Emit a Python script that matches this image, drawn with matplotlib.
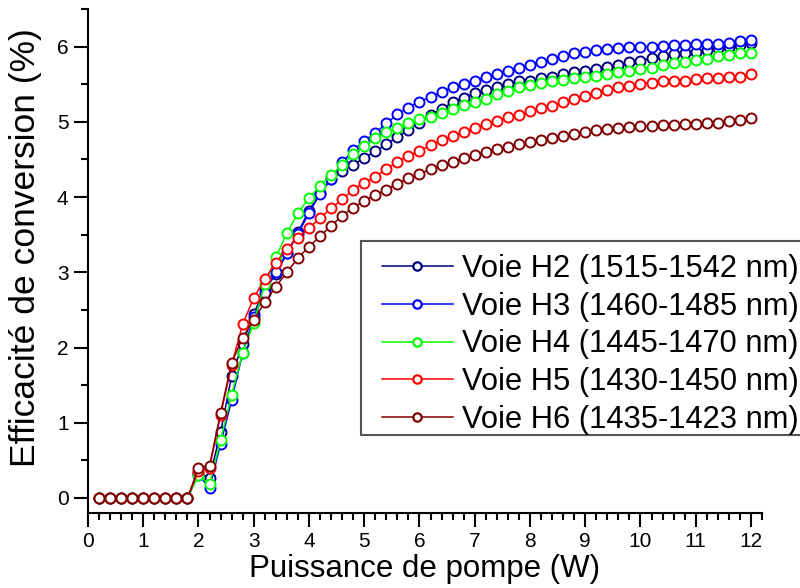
import numpy as np
import matplotlib
matplotlib.use("Agg")
import matplotlib.pyplot as plt
from matplotlib.ticker import MultipleLocator
from matplotlib.patches import Rectangle

plt.rcParams['font.family'] = ['Liberation Sans', 'DejaVu Sans']

# =============================
# DATA
# =============================
pump_w = [0.2, 0.4, 0.6, 0.8, 1.0, 1.2, 1.4, 1.6, 1.8, 2.0,
          2.2, 2.4, 2.6, 2.8, 3.0, 3.2, 3.4, 3.6, 3.8, 4.0,
          4.2, 4.4, 4.6, 4.8, 5.0, 5.2, 5.4, 5.6, 5.8, 6.0,
          6.2, 6.4, 6.6, 6.8, 7.0, 7.2, 7.4, 7.6, 7.8, 8.0,
          8.2, 8.4, 8.6, 8.8, 9.0, 9.2, 9.4, 9.6, 9.8, 10.0,
          10.2, 10.4, 10.6, 10.8, 11.0, 11.2, 11.4, 11.6, 11.8, 12.0]

zeros = [0, 0, 0, 0, 0, 0, 0, 0, 0]

eff_h2 = zeros + [0.33, 0.27, 0.87, 1.62, 2.05, 2.45, 2.78, 2.98, 3.25, 3.53,
                  3.82, 4.06, 4.24, 4.35, 4.43, 4.52, 4.61, 4.70, 4.80, 4.89,
                  4.99, 5.09, 5.17, 5.26, 5.32, 5.38, 5.42, 5.46, 5.50, 5.54,
                  5.55, 5.58, 5.60, 5.63, 5.66, 5.67, 5.70, 5.73, 5.76, 5.79,
                  5.81, 5.85, 5.88, 5.90, 5.92, 5.93, 5.95, 5.98, 6.00, 6.02,
                  6.05]
eff_h3 = zeros + [0.31, 0.13, 0.72, 1.30, 1.93, 2.40, 2.73, 3.00, 3.25, 3.51,
                  3.79, 4.04, 4.24, 4.46, 4.62, 4.75, 4.85, 4.98, 5.10, 5.19,
                  5.27, 5.33, 5.40, 5.46, 5.51, 5.55, 5.60, 5.64, 5.68, 5.72,
                  5.76, 5.80, 5.83, 5.88, 5.91, 5.93, 5.95, 5.97, 5.98, 5.99,
                  6.00, 6.00, 6.01, 6.02, 6.02, 6.03, 6.04, 6.04, 6.05, 6.07,
                  6.09]
eff_h4 = zeros + [0.30, 0.18, 0.77, 1.37, 1.93, 2.33, 2.84, 3.20, 3.52, 3.79,
                  3.99, 4.15, 4.29, 4.43, 4.57, 4.68, 4.78, 4.86, 4.92, 4.99,
                  5.04, 5.07, 5.12, 5.17, 5.22, 5.27, 5.31, 5.37, 5.41, 5.46,
                  5.49, 5.52, 5.55, 5.56, 5.58, 5.60, 5.61, 5.63, 5.66, 5.68,
                  5.70, 5.72, 5.75, 5.78, 5.80, 5.82, 5.84, 5.87, 5.89, 5.91,
                  5.92]
eff_h5 = zeros + [0.36, 0.40, 1.10, 1.77, 2.31, 2.66, 2.91, 3.13, 3.31, 3.46,
                  3.59, 3.72, 3.85, 3.97, 4.10, 4.19, 4.27, 4.37, 4.47, 4.55,
                  4.61, 4.69, 4.76, 4.81, 4.87, 4.92, 4.97, 5.01, 5.06, 5.09,
                  5.14, 5.18, 5.21, 5.26, 5.31, 5.35, 5.39, 5.42, 5.46, 5.48,
                  5.51, 5.52, 5.54, 5.55, 5.55, 5.57, 5.58, 5.58, 5.59, 5.60,
                  5.63]
eff_h6 = zeros + [0.40, 0.43, 1.13, 1.80, 2.13, 2.37, 2.60, 2.81, 3.00, 3.19,
                  3.34, 3.48, 3.62, 3.75, 3.86, 3.95, 4.03, 4.10, 4.18, 4.25,
                  4.31, 4.37, 4.42, 4.47, 4.52, 4.56, 4.60, 4.64, 4.67, 4.70,
                  4.73, 4.76, 4.78, 4.81, 4.84, 4.86, 4.89, 4.90, 4.92, 4.93,
                  4.94, 4.95, 4.96, 4.96, 4.97, 4.97, 4.98, 4.99, 5.01, 5.03,
                  5.05]

labels = ["Voie H2 (1515-1542 nm)", "Voie H3 (1460-1485 nm)",
          "Voie H4 (1445-1470 nm)", "Voie H5 (1430-1450 nm)",
          "Voie H6 (1435-1423 nm)"]
colors = ['#000080', '#0000FF', '#00FF00', '#FF0000', '#800000']

# =============================
# PLOT
# =============================
fig = plt.figure(figsize=(8, 5.88), dpi=100)
ax = fig.add_axes([0.11, 0.1276, 0.8425, 0.857])

for y, lab, c in zip([eff_h2, eff_h3, eff_h4, eff_h5, eff_h6], labels, colors):
    ax.plot(pump_w, y, color=c, linewidth=1.1, marker='o', markersize=7.2,
            markerfacecolor='white', markeredgecolor=c, markeredgewidth=1.4,
            label=lab, clip_on=False)

ax.set_xlim(0, 12.2)
ax.set_ylim(-0.2, 6.5)
ax.xaxis.set_major_locator(MultipleLocator(1))
ax.xaxis.set_minor_locator(MultipleLocator(0.2))
ax.yaxis.set_major_locator(MultipleLocator(1))
ax.yaxis.set_minor_locator(MultipleLocator(0.5))

for side in ['top', 'right']:
    ax.spines[side].set_visible(False)
for side in ['left', 'bottom']:
    ax.spines[side].set_linewidth(1.5)

ax.tick_params(which='major', direction='out', length=10, width=1.5,
               labelsize=15, pad=4)
ax.tick_params(which='minor', direction='out', length=5, width=1.5)

ax.set_xlabel("Puissance de pompe (W)", fontsize=22.5, labelpad=2)
ax.set_ylabel("Efficacité de conversion (%)", fontsize=25.5)
ax.yaxis.set_label_coords(-0.068, 0.527)

# legend box, drawn by hand so it can run past the right edge
frame = Rectangle((361/800, 1 - 435/588), 460/800, 194/588,
                  transform=fig.transFigure, facecolor='white',
                  edgecolor='#555555', linewidth=1.5, zorder=8, clip_on=False)
ax.add_patch(frame)

leg = ax.legend(loc='upper left', bbox_to_anchor=(382/800, 1 - 254/588),
                bbox_transform=fig.transFigure, fontsize=22.2, frameon=False,
                borderpad=0, labelspacing=0.25,
                handlelength=2.3, handletextpad=0.3, borderaxespad=0)
leg.set_zorder(10)
for h in leg.legend_handles:
    h.set_markersize(6)
    h.set_markeredgewidth(1.6)

fig.savefig("out.png", dpi=100)
